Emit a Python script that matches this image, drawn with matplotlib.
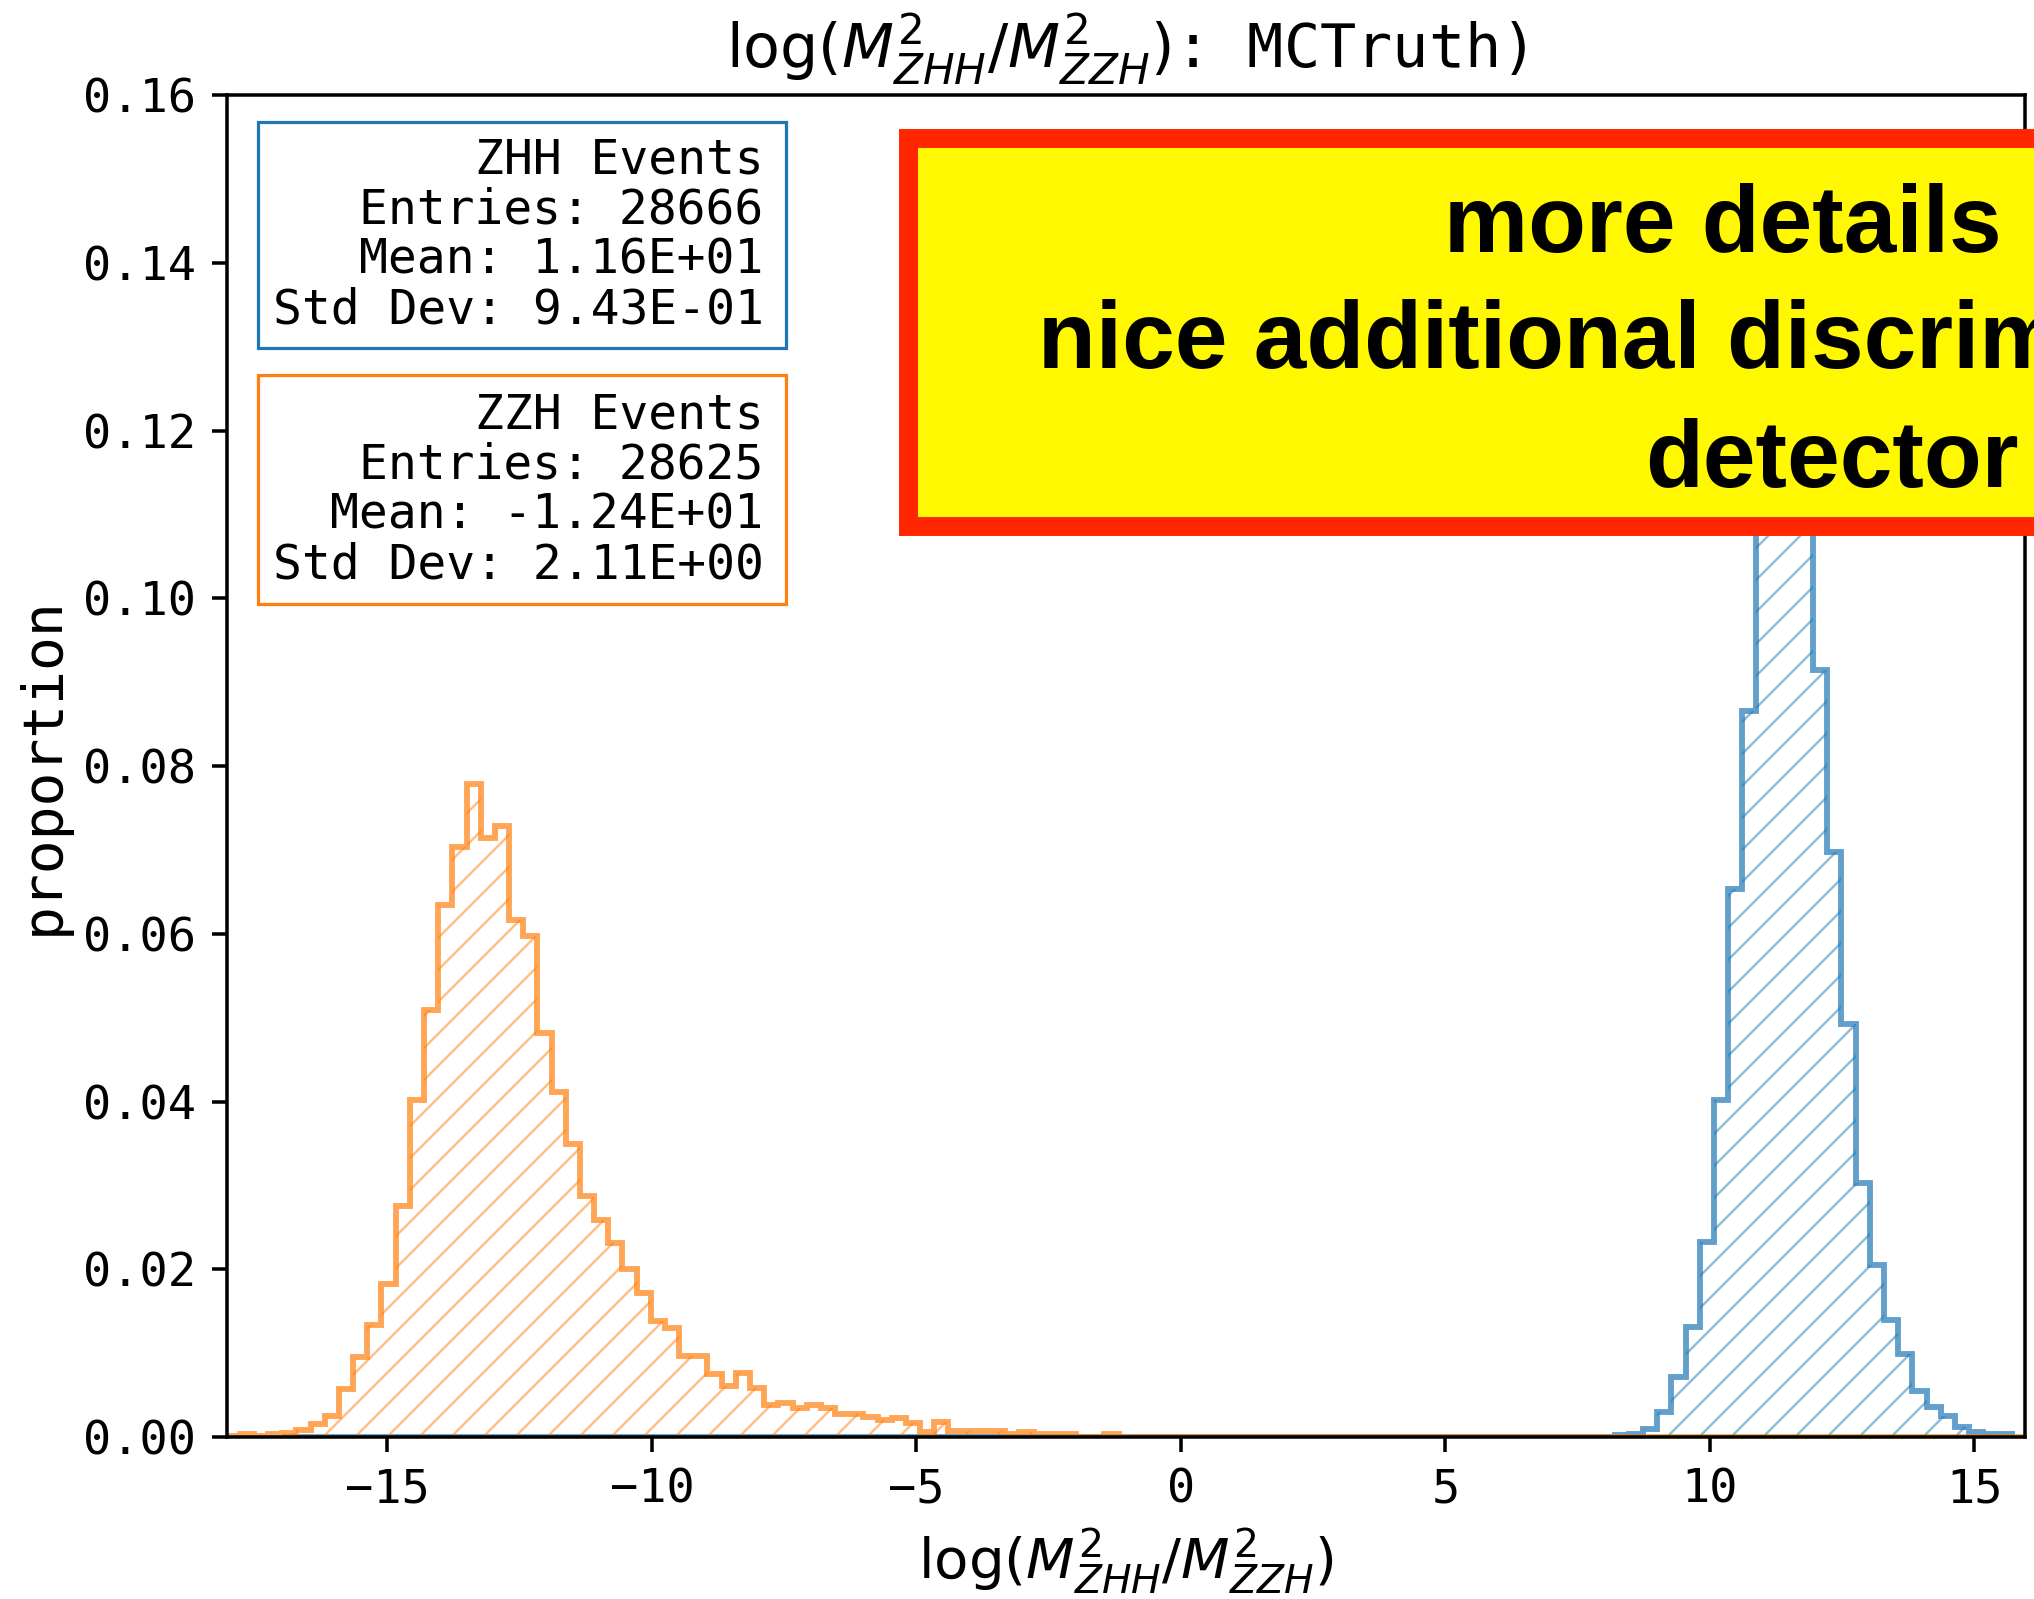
import numpy as np
import matplotlib
matplotlib.use("Agg")
import matplotlib.pyplot as plt
from matplotlib.patches import Rectangle

## binning (shared by both samples) ##
bin_lo = -18.33
bin_width = 0.268
n_bins = 128

# proportion of ZZH events per bin
zzh_props = [0.0001, 0.0001, 0.0003, 0.0001, 0.0004, 0.0005, 0.0008, 0.0016,
             0.0025, 0.0057, 0.0095, 0.0133, 0.0183, 0.0275, 0.0402, 0.0509,
             0.0634, 0.0704, 0.0779, 0.0714, 0.0729, 0.0616, 0.0597, 0.0482,
             0.0411, 0.0349, 0.0287, 0.0259, 0.0231, 0.0200, 0.0172, 0.0138,
             0.0130, 0.0096, 0.0096, 0.0075, 0.0061, 0.0076, 0.0059, 0.0038,
             0.0041, 0.0034, 0.0038, 0.0034, 0.0028, 0.0028, 0.0024, 0.0020,
             0.0023, 0.0017, 0.0006, 0.0018, 0.0007, 0.0007, 0.0007, 0.0007,
             0.0003, 0.0006, 0.0003, 0.0003, 0.0003, 0.0, 0.0, 0.0003] + [0.0] * 64

# proportion of ZHH events per bin (non-empty bins start at index 99)
zhh_props = [0.0] * 99 + [0.0002, 0.0004, 0.0010, 0.0030, 0.0071, 0.0131, 0.0232,
                          0.0402, 0.0653, 0.0866, 0.1100, 0.1220, 0.1200, 0.1120,
                          0.0915, 0.0697, 0.0493, 0.0303, 0.0205, 0.0139, 0.0099,
                          0.0055, 0.0036, 0.0025, 0.0012, 0.0006, 0.0004, 0.0004] + [0.0]
zhh_first, zhh_last = 5, 127   # range of bins covered by ZHH sample

stats_zhh = ["ZHH Events", "Entries: 28666", "Mean: 1.16E+01", "Std Dev: 9.43E-01"]
stats_zzh = ["ZZH Events", "Entries: 28625", "Mean: -1.24E+01", "Std Dev: 2.11E+00"]

note_lines = ["more details", "nice additional discrim", "detector"]

edges = bin_lo + bin_width * np.arange(n_bins + 1)
zzh = np.array(zzh_props)
zhh = np.array(zhh_props)

## style ##
S = 1.65
plt.rcParams['font.family'] = 'monospace'
plt.rcParams['mathtext.fontset'] = 'dejavusans'
plt.rcParams['font.size'] = 10.7 * S
plt.rcParams['axes.linewidth'] = 0.8 * S
for ax_ in ('xtick', 'ytick'):
    plt.rcParams[ax_ + '.major.size'] = 3.5 * S
    plt.rcParams[ax_ + '.major.width'] = 0.8 * S
    plt.rcParams[ax_ + '.major.pad'] = 3.5 * S
plt.rcParams['hatch.linewidth'] = 0.9

fig = plt.figure(figsize=(2034 / 192, 1599 / 192), dpi=192)
ax = fig.add_axes([0.11146, 0.10131, 0.88412, 0.83927])

blue = 'tab:blue'
orange = 'tab:orange'

# hatched fill (faint) then the step outline
zhh_e = edges[zhh_first:zhh_last + 1]
zhh_v = zhh[zhh_first:zhh_last]
ax.stairs(zhh_v, zhh_e, color=blue, alpha=0.5, linewidth=0, hatch='//', fill=False)
ax.stairs(zhh_v, zhh_e, color=blue, alpha=0.7, linewidth=2.2)
ax.stairs(zzh, edges, color=orange, alpha=0.5, linewidth=0, hatch='//', fill=False)
ax.stairs(zzh, edges, color=orange, alpha=0.7, linewidth=2.2)

ax.set_xlim(-18.04, 15.96)
ax.set_ylim(0, 0.16)
ax.set_xticks([-15, -10, -5, 0, 5, 10, 15])
ax.set_yticks(np.arange(0, 0.161, 0.02))

ax.set_title(r'$\log(M^2_{ZHH}/M^2_{ZZH})$: MCTruth)', fontsize=13.7 * S, pad=6 * S)
ax.set_xlabel(r'$\log(M^2_{ZHH}/M^2_{ZZH})$', fontsize=12.8 * S, labelpad=3 * S)
ax.set_ylabel('proportion', fontsize=12.8 * S, labelpad=3 * S)

# stat boxes
def stat_box(lines, color, y_top, y_bot, y_first):
    ax.add_patch(Rectangle((0.0176, y_bot), 0.2932, y_top - y_bot, transform=ax.transAxes,
                           facecolor='white', edgecolor=color, linewidth=1.2, zorder=5))
    for j, s in enumerate(lines):
        ax.text(0.2985, y_first - 0.0373 * j, s, transform=ax.transAxes, ha='right',
                va='baseline', fontsize=10.9 * S, zorder=6)

stat_box(stats_zhh, blue, 0.9801, 0.8113, 0.9417)
stat_box(stats_zzh, orange, 0.7914, 0.6207, 0.7516)

# highlighted note on top
fig.add_artist(Rectangle((0.4466, 0.6710), 0.7, 0.9140 - 0.6710, transform=fig.transFigure,
                         facecolor='#FFF800', edgecolor='#FF2600', linewidth=7.1, zorder=10))
note_x = [0.7100, 0.5104, 0.8089]
note_y = [0.8426, 0.7697, 0.6956]
for s, x, y in zip(note_lines, note_x, note_y):
    fig.text(x, y, s, ha='left', va='baseline', fontsize=35.5, fontweight='bold',
             family='Liberation Sans', color='black', zorder=11)

fig.savefig("out.png", dpi=192)
